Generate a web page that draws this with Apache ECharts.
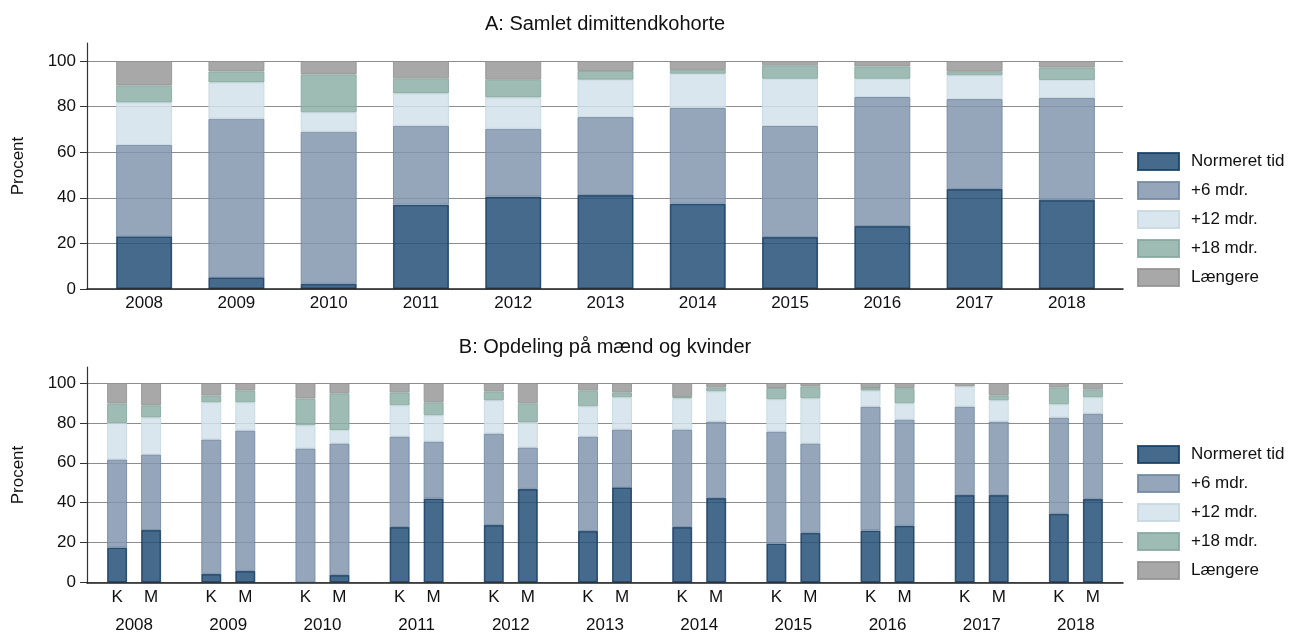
<!DOCTYPE html>
<html>
<head>
<meta charset="utf-8">
<script src="https://cdn.jsdelivr.net/npm/echarts@6/dist/echarts.min.js"></script>
<style>
  html, body { margin: 0; padding: 0; background: #fff; }
  #chart { width: 1290px; height: 634px; }
</style>
</head>
<body>
<div id="chart"></div>
<script>
// kategorier
var years = ['2008', '2009', '2010', '2011', '2012', '2013', '2014', '2015', '2016', '2017', '2018']
var names = ['Normeret tid', '+6 mdr.', '+12 mdr.', '+18 mdr.', 'Længere']

// A: samlet dimittendkohorte (procent)
var normA = [23.1, 5.1, 2.3, 37.0, 40.6, 41.2, 37.4, 22.8, 27.6, 43.9, 39.0]
var m6A = [40.1, 69.6, 66.7, 34.6, 29.7, 34.2, 42.0, 48.7, 56.6, 39.4, 44.8]
var m12A = [18.6, 15.9, 8.5, 14.2, 13.7, 16.4, 15.0, 20.7, 8.0, 10.4, 7.9]
var m18A = [7.5, 4.8, 16.6, 6.6, 7.8, 3.8, 1.7, 5.9, 5.4, 1.6, 5.4]
var laengA = [10.7, 4.6, 5.9, 7.6, 8.2, 4.4, 3.9, 1.9, 2.4, 4.7, 2.9]

// B: kvinder (K)
var normK = [17.5, 4.3, 0, 27.8, 28.8, 25.8, 27.8, 19.5, 26.1, 43.8, 34.4]
var m6K = [44.2, 67.4, 67.2, 45.4, 45.9, 47.4, 48.9, 56.2, 62.1, 44.4, 48.3]
var m12K = [18.2, 18.6, 11.6, 15.6, 16.6, 15.1, 15.6, 16.1, 8.0, 10.1, 6.6]
var m18K = [9.8, 3.4, 13.4, 6.5, 4.5, 8.0, 0.7, 5.7, 1.3, 0, 8.5]
var laengK = [10.3, 6.3, 7.8, 4.7, 4.2, 3.7, 7.0, 2.5, 2.5, 1.7, 2.2]

// B: mænd (M)
var normM = [26.3, 5.8, 3.8, 42.1, 46.9, 47.7, 42.3, 24.9, 28.4, 43.8, 41.9]
var m6M = [37.9, 70.4, 65.9, 28.6, 20.8, 29.0, 38.4, 44.8, 53.3, 36.9, 42.8]
var m12M = [18.5, 14.1, 6.7, 13.1, 12.5, 16.1, 15.1, 22.6, 8.1, 10.6, 8.1]
var m18M = [6.1, 6.0, 18.4, 6.5, 9.6, 2.5, 2.0, 6.0, 7.6, 2.5, 4.0]
var laengM = [11.2, 3.7, 5.2, 9.7, 10.2, 4.7, 2.2, 1.7, 2.6, 6.2, 3.2]

var fills = ['#265078', '#8297ae', '#d2e2ea', '#8eb0a7', '#999999']
var borders = ['#163d63', '#6f86a0', '#c5d7e1', '#84a79d', '#929292']

var FONT = '"Liberation Sans", Arial, sans-serif'
var TXT = '#111'

var chart = echarts.init(document.getElementById('chart'))

function seg(v) {
  return v.map(function (x) { return x === 0 ? '-' : x })
}

function barSeries(name, i, data, xIdx, yIdx, stack, extra) {
  var s = {
    name: name,
    type: 'bar',
    stack: stack,
    xAxisIndex: xIdx,
    yAxisIndex: yIdx,
    data: seg(data),
    itemStyle: {
      color: fills[i],
      borderColor: borders[i],
      borderWidth: i === 0 ? 1.5 : 1,
      opacity: 0.85
    },
    emphasis: { disabled: true },
    animation: false
  }
  return Object.assign(s, extra)
}

// ramme-akse (0-108), kun linjer + navn
function frameY(gridIdx) {
  return {
    gridIndex: gridIdx, type: 'value', min: 0, max: 108,
    name: 'Procent', nameLocation: 'middle', nameGap: 60,
    nameTextStyle: { fontSize: 17, fontFamily: FONT, color: TXT },
    axisLine: { show: true, lineStyle: { color: '#333', width: 1.2 } },
    axisTick: { show: false }, axisLabel: { show: false }, splitLine: { show: false },
    z: 3
  }
}
function frameX(gridIdx) {
  return {
    gridIndex: gridIdx, type: 'value', min: 0, max: 1,
    axisLine: { show: true, onZero: false, lineStyle: { color: '#222', width: 1.5 } },
    axisTick: { show: false }, axisLabel: { show: false }, splitLine: { show: false },
    z: 3
  }
}
// skala-akse (0-100), tick + labels + gitter
function scaleY(gridIdx) {
  return {
    gridIndex: gridIdx, type: 'value', min: 0, max: 100, interval: 20,
    axisLine: { show: false },
    axisTick: { show: true, length: 7, lineStyle: { color: '#333' } },
    axisLabel: { fontSize: 17, fontFamily: FONT, color: TXT, margin: 11 },
    splitLine: { show: true, lineStyle: { color: '#8c8c8c', width: 1 } }
  }
}
function hiddenY(gridIdx) {
  return { gridIndex: gridIdx, type: 'value', min: 0, max: 100, show: false }
}

var series = []
var dataA = [normA, m6A, m12A, m18A, laengA]
var dataK = [normK, m6K, m12K, m18K, laengK]
var dataM = [normM, m6M, m12M, m18M, laengM]

names.forEach(function (n, i) {
  series.push(barSeries(n, i, dataA[i], 2, 2, 'A', { barWidth: 56 }))
})
names.forEach(function (n, i) {
  series.push(barSeries(n, i, dataK[i], 4, 4, 'K', { barWidth: 20, barGap: '70%' }))
})
names.forEach(function (n, i) {
  series.push(barSeries(n, i, dataM[i], 4, 4, 'M', { barWidth: 20, barGap: '70%' }))
})

function legendAt(top) {
  return {
    orient: 'vertical', left: 1137, top: top, padding: 0,
    itemWidth: 41, itemHeight: 17, itemGap: 10, icon: 'rect',
    selectedMode: false,
    textStyle: { fontSize: 17, fontFamily: FONT, color: TXT, lineHeight: 17, padding: [0, 0, 0, 7] },
    data: names
  }
}

chart.setOption({
  backgroundColor: '#fff',
  title: [
    { text: 'A: Samlet dimittendkohorte', left: 605, textAlign: 'center', top: 14, padding: 0,
      textStyle: { fontSize: 20, fontWeight: 'normal', fontFamily: FONT, color: TXT } },
    { text: 'B: Opdeling på mænd og kvinder', left: 605, textAlign: 'center', top: 337, padding: 0,
      textStyle: { fontSize: 20, fontWeight: 'normal', fontFamily: FONT, color: TXT } }
  ],
  legend: [legendAt(152), legendAt(445)],
  grid: [
    { left: 87, width: 1036, top: 43, height: 246 },  // 0 ramme A
    { left: 87, width: 1036, top: 61, height: 228 },  // 1 skala A
    { left: 98, width: 1015, top: 61, height: 228 },  // 2 søjler A
    { left: 87, width: 1036, top: 367, height: 216 }, // 3 ramme B
    { left: 87, width: 1036, top: 383, height: 200 }  // 4 skala + søjler B
  ],
  xAxis: [
    frameX(0),
    { gridIndex: 1, type: 'value', show: false, min: 0, max: 1 },
    {
      gridIndex: 2, type: 'category', data: years,
      axisLine: { show: false }, axisTick: { show: false },
      axisLabel: { fontSize: 17, fontFamily: FONT, color: TXT, margin: 6 }
    },
    frameX(3),
    {
      gridIndex: 4, type: 'category', data: years,
      axisLine: { show: false }, axisTick: { show: false },
      axisLabel: {
        margin: 1,
        formatter: function (v) { return '{k|K}{m|M}\n{y|' + v + '}' },
        rich: {
          k: { width: 34, align: 'center', fontSize: 17, fontFamily: FONT, color: TXT, lineHeight: 28 },
          m: { width: 34, align: 'center', fontSize: 17, fontFamily: FONT, color: TXT, lineHeight: 28 },
          y: { align: 'center', fontSize: 17, fontFamily: FONT, color: TXT, lineHeight: 28 }
        }
      }
    }
  ],
  yAxis: [frameY(0), scaleY(1), hiddenY(2), frameY(3), scaleY(4)],
  series: series
})
</script>
</body>
</html>
